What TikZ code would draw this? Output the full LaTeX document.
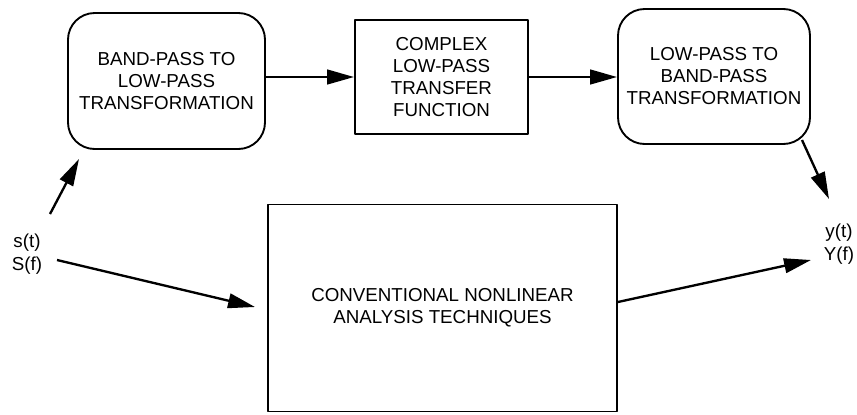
\documentclass[tikz,border=0pt]{standalone}
\usepackage{fontspec}
\setmainfont{Liberation Sans}
\usetikzlibrary{arrows.meta}
\begin{document}
\begin{tikzpicture}[x=0.03cm, y=-0.03cm, line join=round, >={Triangle[length=23pt,width=12.5pt]}]

		\tikzset{blk/.style={draw, line width=1.6pt, align=center, inner sep=0pt, font=\fontsize{16}{18.8}\selectfont},
		rblk/.style={blk, rounded corners=0.8cm},
		arr/.style={->, line width=2pt},
		sig/.style={align=center, font=\fontsize{16}{19.5}\selectfont}}

		\useasboundingbox (0,0) rectangle (857,414);

		\node[rblk, minimum width=5.91cm, minimum height=4.08cm] (bp2lp) at (166.5,81) {BAND-PASS TO\\LOW-PASS\\TRANSFORMATION};
		\node[blk, minimum width=5.19cm, minimum height=3.42cm] (cplx) at (441.5,77) {COMPLEX\\LOW-PASS\\TRANSFER\\FUNCTION};
		\node[rblk, minimum width=5.76cm, minimum height=4.05cm] (lp2bp) at (714,76.5) {LOW-PASS TO\\BAND-PASS\\TRANSFORMATION};
		\node[blk, minimum width=10.47cm, minimum height=6.21cm] (conv) at (442.5,308) {CONVENTIONAL NONLINEAR\\ANALYSIS TECHNIQUES};

		\node[sig] (sin) at (27,254) {s(t)\\S(f)};
		\node[sig] (yout) at (839,244) {y(t)\\Y(f)};

		\coordinate (s1) at (50,214);
		\coordinate (a1) at (79,159);
		\coordinate (s2) at (57,260);
		\coordinate (a2) at (255,307);
		\coordinate (a3) at (811,260);
		\coordinate (r1) at (802,140);
		\coordinate (a4) at (829,199);

		\draw[arr] (s1)--(a1);
		\draw[arr] (s2)--(a2);
		\draw[arr] (bp2lp.east |- cplx.west)--(cplx.west);
		\draw[arr] (cplx.east)--(lp2bp.west |- cplx.east);
		\draw[arr] (r1)--(a4);
		\draw[arr] (conv.east |- 0,302)--(a3);
		\end{tikzpicture}
\end{document}
